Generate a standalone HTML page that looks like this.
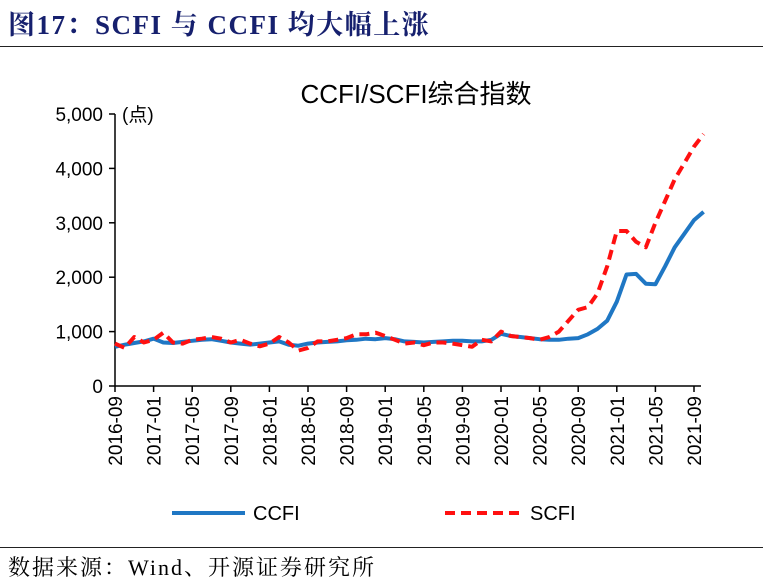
<!DOCTYPE html>
<html><head><meta charset="utf-8"><style>
body{margin:0;background:#fff;width:763px;height:581px;overflow:hidden;font-family:"Liberation Sans","Noto Sans CJK SC",sans-serif}
.t{position:absolute;left:8px;top:3px;font-family:"Liberation Serif","Noto Serif CJK SC",serif;font-weight:bold;font-size:27px;letter-spacing:1.5px;color:#16206e}
</style></head><body>
<div class="t">图17：SCFI 与 CCFI 均大幅上涨</div>
<div style="position:absolute;left:0;top:46px;width:763px;height:1px;background:#222"></div>
<svg id="c" width="763" height="581" style="position:absolute;left:0;top:0">
<text x="416" y="103" text-anchor="middle" font-size="26" fill="#000">CCFI/SCFI综合指数</text>
<text x="122" y="121" font-size="19" fill="#000">(点)</text>
<g id="ax"></g>
<line x1="172" y1="513" x2="245" y2="513" stroke="#1f77c4" stroke-width="4"/>
<text x="253" y="520" font-size="20">CCFI</text>
<line x1="445" y1="513" x2="520" y2="513" stroke="#ff1010" stroke-width="4" stroke-dasharray="10,6"/>
<text x="530" y="520" font-size="20">SCFI</text>
</svg>
<div style="position:absolute;left:0;top:547px;width:763px;height:1px;background:#222"></div>
<div style="position:absolute;left:8px;top:551px;font-family:'Liberation Serif','Noto Serif CJK SC',serif;font-size:22px;letter-spacing:2px">数据来源：Wind、开源证券研究所</div>
<script>
const months=["2016-09","2017-01","2017-05","2017-09","2018-01","2018-05","2018-09","2019-01","2019-05","2019-09","2020-01","2020-05","2020-09","2021-01","2021-05","2021-09"];
const yTicks=[0,1000,2000,3000,4000,5000];
const ccfi=[720,760,790,820,870,800,790,810,830,850,860,830,800,780,760,780,800,820,760,740,780,800,810,820,840,850,870,860,880,860,820,810,800,810,820,830,830,820,820,850,960,920,900,880,860,850,850,870,880,950,1050,1200,1550,2050,2060,1880,1870,2200,2550,2800,3050,3200];
const scfi=[780,700,900,800,850,980,800,780,850,870,900,870,800,850,780,730,780,900,800,650,700,820,820,850,880,950,950,980,920,850,780,800,750,800,800,780,750,720,850,820,1000,920,900,880,850,900,1000,1200,1400,1450,1700,2200,2850,2850,2650,2550,3000,3400,3800,4100,4400,4630];
const NS="http://www.w3.org/2000/svg",svg=document.getElementById('c'),ax=document.getElementById('ax');
const X0=115,DX=9.65,Y0=386,KY=0.0544;
const xs=i=>X0+i*DX, ys=v=>Y0-v*KY;
function mk(t,a){const e=document.createElementNS(NS,t);for(const k in a)e.setAttribute(k,a[k]);return e;}
let l=mk('line',{x1:X0,y1:114,x2:X0,y2:Y0,stroke:'#000','stroke-width':1.5});


ax.appendChild(l);
l=mk('line',{x1:X0,y1:Y0,x2:701,y2:Y0,stroke:'#000','stroke-width':1.5});


ax.appendChild(l);
yTicks.forEach(v=>{
 const t=mk('line',{x1:X0-6,y1:ys(v),x2:X0,y2:ys(v),stroke:'#000','stroke-width':1.5});
 
 
 ax.appendChild(t);
 const tx=mk('text',{x:X0-12,y:ys(v)+7,'text-anchor':'end','font-size':19});
 
 
 tx.textContent=v.toLocaleString('en-US');ax.appendChild(tx);
});
months.forEach((m,k)=>{
 const x=xs(k*4);
 const t=mk('line',{x1:x,y1:Y0,x2:x,y2:Y0+6,stroke:'#000','stroke-width':1.5});
 
 
 ax.appendChild(t);
 const tx=mk('text',{x:0,y:0,'text-anchor':'end','font-size':19,transform:`translate(${x+7},${Y0+10}) rotate(-90)`});
 
 
 tx.textContent=m;ax.appendChild(tx);
});
function pts(a){return a.map((v,i)=>xs(i).toFixed(1)+','+ys(v).toFixed(1)).join(' ');}
let p=mk('polyline',{points:pts(ccfi),fill:'none',stroke:'#1f77c4','stroke-width':4,'stroke-linejoin':'round'});


ax.appendChild(p);
p=mk('polyline',{points:pts(scfi),fill:'none',stroke:'#ff1010','stroke-width':4,'stroke-dasharray':'10,6','stroke-linejoin':'round'});


ax.appendChild(p);
</script>
</body></html>
